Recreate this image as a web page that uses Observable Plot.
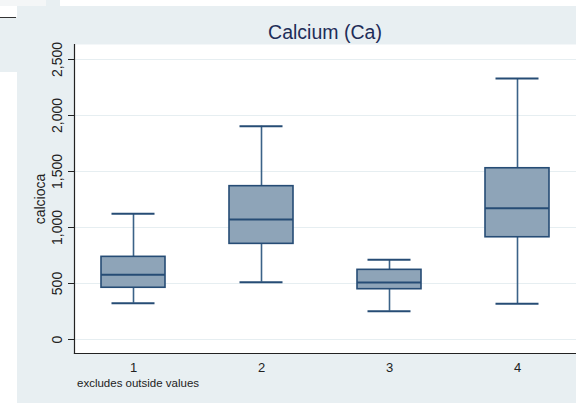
<!DOCTYPE html>
<html>
<head>
<meta charset="utf-8">
<script src="https://cdn.jsdelivr.net/npm/d3@7"></script>
<script src="https://cdn.jsdelivr.net/npm/@observablehq/plot@0.6"></script>
<style>
  html, body { margin: 0; padding: 0; background: #ffffff; }
  #wrap { position: relative; width: 576px; height: 403px; overflow: hidden; background: #ffffff; font-family: "Liberation Sans", Arial, Helvetica, sans-serif; }
  .panel { position: absolute; background: #e8eff2; }
  #title { position: absolute; left: 74px; width: 502px; top: 21.5px; text-align: center; font-size: 19.5px; line-height: 20px; color: #1e2d58; }
  #note { position: absolute; left: 77px; top: 376px; font-size: 11.5px; line-height: 14px; color: #222; }
  #chart { position: absolute; left: 0; top: 0; }
</style>
</head>
<body>
<div id="wrap">
  <div style="position:absolute;left:0;top:0;width:46px;height:6px;background:#f4f6f7"></div>
  <div class="panel" style="left:46px;top:0;width:14px;height:6px"></div>
  <div class="panel" style="left:17px;top:6px;width:559px;height:397px"></div>
  <div class="panel" style="left:0;top:17px;width:17px;height:55px"></div>
  <div style="position:absolute;left:0;top:17px;width:16px;height:1px;background:#333"></div>
  <div id="chart"></div>
  <div id="title">Calcium (Ca)</div>
  <div id="note">excludes outside values</div>
</div>
<script>
// ---- data ----
const groups = ["1", "2", "3", "4"];
const whiskerLow = [324, 512, 253, 319];
const q1 = [462, 854, 449, 913];
const median = [578, 1071, 509, 1172];
const q3 = [738, 1369, 622, 1529];
const whiskerHigh = [1122, 1904, 712, 2330];
const yTicks = [0, 500, 1000, 1500, 2000, 2500];
const yDomain = [-125, 2634];
const yLabel = "calcioca";

const rows = groups.map((g, i) => ({
  g, lo: whiskerLow[i], q1: q1[i], med: median[i], q3: q3[i], hi: whiskerHigh[i]
}));

const fillC = "#8ea4b8";
const strokeC = "#264c75";
const whiskC = "#3b6288";

const chart = Plot.plot({
  width: 576,
  height: 403,
  marginLeft: 74,
  marginRight: 0,
  marginTop: 44,
  marginBottom: 50,
  style: { background: "transparent", fontFamily: "'Liberation Sans', Arial, sans-serif" },
  x: { type: "band", domain: groups, paddingInner: 0.5, paddingOuter: 0.21, label: null },
  y: { type: "linear", domain: yDomain, label: null },
  marks: [
    Plot.frame({ fill: "white", stroke: null }),
    Plot.gridY(yTicks, { stroke: "#e6eef1", strokeOpacity: 1, strokeWidth: 1.2 }),
    Plot.frame({ anchor: "left", stroke: "#222", strokeWidth: 1.2 }),
    Plot.frame({ anchor: "bottom", stroke: "#222", strokeWidth: 1.2 }),
    Plot.axisY(yTicks, {
      tickSize: 6, tickRotate: -90, tickPadding: 7,
      tickFormat: d3.format(","), fontSize: 14, fill: "#222", stroke: "#222",
      label: null
    }),
    Plot.text([yLabel], {
      frameAnchor: "left", rotate: -90, dx: -34, fontSize: 14, fill: "#222",
      textAnchor: "middle", lineAnchor: "middle"
    }),
    Plot.axisX({ tickSize: 0, tickPadding: 9, fontSize: 13, fill: "#222", label: null }),
    Plot.ruleX(rows, { x: "g", y1: "lo", y2: "q1", stroke: whiskC, strokeWidth: 1.6 }),
    Plot.ruleX(rows, { x: "g", y1: "q3", y2: "hi", stroke: whiskC, strokeWidth: 1.6 }),
    Plot.tickY(rows, { x: "g", y: "lo", stroke: strokeC, strokeWidth: 2, insetLeft: 10.5, insetRight: 10.5 }),
    Plot.tickY(rows, { x: "g", y: "hi", stroke: strokeC, strokeWidth: 2, insetLeft: 10.5, insetRight: 10.5 }),
    Plot.barY(rows, { x: "g", y1: "q1", y2: "q3", fill: fillC, stroke: strokeC, strokeWidth: 1.6 }),
    Plot.tickY(rows, { x: "g", y: "med", stroke: strokeC, strokeWidth: 2 })
  ]
});
document.getElementById("chart").appendChild(chart);
</script>
</body>
</html>
